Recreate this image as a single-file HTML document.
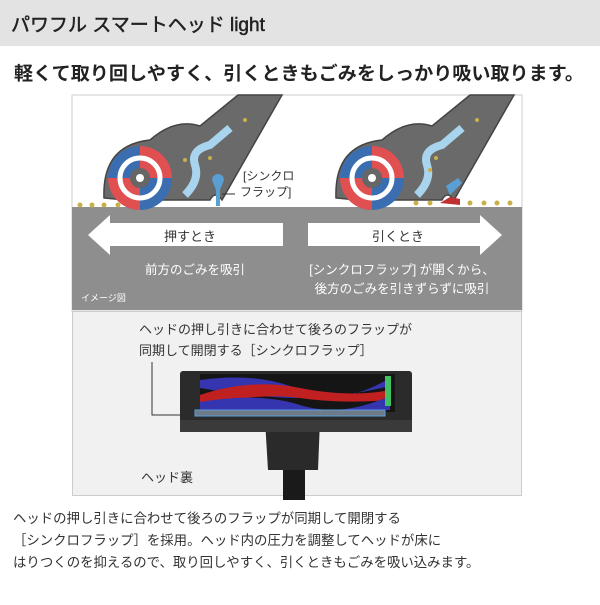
<!DOCTYPE html>
<html><head><meta charset="utf-8"><style>
body{margin:0;width:600px;height:600px;background:#fff;overflow:hidden;font-family:"Liberation Sans","Noto Sans CJK JP",sans-serif;}
svg text{font-family:"Liberation Sans","Noto Sans CJK JP",sans-serif;}
</style></head><body>
<svg width="600" height="600" viewBox="0 0 600 600" xmlns="http://www.w3.org/2000/svg">
<rect x="0" y="0" width="600" height="46" fill="#e3e3e3"/>
<text x="11" y="31" font-size="19" fill="#222" stroke="#222" stroke-width="0.5">パワフル スマートヘッド light</text>
<text x="14" y="80" font-size="18.5" fill="#222" font-weight="bold" textLength="570" lengthAdjust="spacingAndGlyphs">軽くて取り回しやすく、引くときもごみをしっかり吸い取ります。</text>

<!-- diagram -->
<rect x="72" y="95" width="450" height="216" fill="#fff" stroke="#ccc"/>
<rect x="72" y="207" width="450" height="103" fill="#8e8e8e"/>
<g id="h1">
 <path d="M104 198 Q102 145 150 140 Q175 118 200 126 L238 95 L282 95 L222 200 Q215 190 210 200 L125 200 Z" fill="#6a6a6a" stroke="#444" stroke-width="1.5"/>
 <circle cx="140" cy="178" r="32" fill="#3a6eb0"/>
 <path d="M140 178 L140 146 A32 32 0 0 1 172 178 Z" fill="#e05050"/>
 <path d="M140 178 L140 210 A32 32 0 0 1 108 178 Z" fill="#e05050"/>
 <circle cx="140" cy="178" r="20" fill="none" stroke="#fff" stroke-width="5"/>
 <circle cx="140" cy="178" r="10" fill="#666"/>
 <circle cx="140" cy="178" r="4" fill="#fff"/>
 <path d="M185 195 Q200 180 195 165 Q190 150 210 145 L230 128" fill="none" stroke="#a8d4ee" stroke-width="8"/>
</g>
<path d="M212 180 a6 6 0 1 1 12 0 l-4 10 l0 16 l-4 0 l0 -16 z" fill="#5a9fd4"/>
<line x1="222" y1="194" x2="235" y2="194" stroke="#333"/>
<text x="243" y="180" font-size="12" fill="#333">[シンクロ</text>
<text x="240" y="196" font-size="12" fill="#333">フラップ]</text>
<g transform="translate(232,0)">
 <path d="M104 198 Q102 145 150 140 Q175 118 200 126 L238 95 L282 95 L222 200 Q215 190 210 200 L125 200 Z" fill="#6a6a6a" stroke="#444" stroke-width="1.5"/>
 <circle cx="140" cy="178" r="32" fill="#3a6eb0"/>
 <path d="M140 178 L140 146 A32 32 0 0 1 172 178 Z" fill="#e05050"/>
 <path d="M140 178 L140 210 A32 32 0 0 1 108 178 Z" fill="#e05050"/>
 <circle cx="140" cy="178" r="20" fill="none" stroke="#fff" stroke-width="5"/>
 <circle cx="140" cy="178" r="10" fill="#666"/>
 <circle cx="140" cy="178" r="4" fill="#fff"/>
 <path d="M185 195 Q200 180 195 165 Q190 150 210 145 L230 128" fill="none" stroke="#a8d4ee" stroke-width="8"/>
</g>
<path d="M446 186 l12 -8 l4 5 l-12 12 z" fill="#5a9fd4"/>
<path d="M440 203 l10 -6 l10 2 l0 6 z" fill="#c03030"/>
<g fill="#c8b048">
<circle cx="80" cy="205" r="2.5"/><circle cx="92" cy="205" r="2.5"/><circle cx="104" cy="205" r="2.5"/><circle cx="118" cy="205" r="2.5"/>
<circle cx="416" cy="203" r="2.5"/><circle cx="430" cy="203" r="2.5"/><circle cx="470" cy="203" r="2.5"/><circle cx="484" cy="203" r="2.5"/><circle cx="497" cy="203" r="2.5"/><circle cx="510" cy="203" r="2.5"/>
<circle cx="245" cy="120" r="2"/><circle cx="210" cy="158" r="2"/><circle cx="185" cy="160" r="2"/><circle cx="477" cy="120" r="2"/><circle cx="436" cy="158" r="2"/><circle cx="430" cy="170" r="2"/>
</g>
<polygon points="88,235 110,215 110,223 283,223 283,246 110,246 110,255" fill="#fff"/>
<polygon points="502,235 480,215 480,223 308,223 308,246 480,246 480,255" fill="#fff"/>
<text x="190" y="241" font-size="13" fill="#333" text-anchor="middle">押すとき</text>
<text x="398" y="241" font-size="13" fill="#333" text-anchor="middle">引くとき</text>
<text x="195" y="274" font-size="12.5" fill="#fff" text-anchor="middle">前方のごみを吸引</text>
<text x="402" y="274" font-size="12.5" fill="#fff" text-anchor="middle">[シンクロフラップ] が開くから、</text>
<text x="402" y="293" font-size="12.5" fill="#fff" text-anchor="middle">後方のごみを引きずらずに吸引</text>
<text x="81" y="301" font-size="9" fill="#fff">イメージ図</text>

<!-- photo panel -->
<rect x="72.5" y="311.5" width="449" height="184" fill="#f1f1f1" stroke="#ccc"/>
<text x="139" y="334" font-size="13" fill="#333">ヘッドの押し引きに合わせて後ろのフラップが</text>
<text x="139" y="355" font-size="13" fill="#333">同期して開閉する［シンクロフラップ］</text>
<polyline points="152,362 152,415 195,415" fill="none" stroke="#333" stroke-width="1"/>
<rect x="283" y="425" width="22" height="75" fill="#1a1a1a"/>
<path d="M265 420 L320 420 L318 470 L268 470 Z" fill="#2a2a2a"/>
<rect x="180" y="371" width="232" height="58" rx="3" fill="#2b2b2b"/>
<rect x="200" y="374" width="195" height="38" fill="#151515"/>
<path d="M200 380 Q260 372 300 390 T390 378 L390 386 Q340 398 300 398 T200 388 Z" fill="#3535b0"/>
<path d="M200 395 Q250 378 300 388 T390 390 L390 400 Q340 404 300 398 T200 406 Z" fill="#c02020"/>
<path d="M200 402 Q260 392 300 405 T390 396 L390 410 L200 410 Z" fill="#3535b0"/>
<rect x="385" y="376" width="6" height="30" fill="#40c060"/>
<rect x="195" y="410" width="190" height="6" fill="#6d7a88" stroke="#5aa0d8"/>
<rect x="180" y="420" width="232" height="12" fill="#3a3a3a"/>
<text x="141" y="482" font-size="13" fill="#333">ヘッド裏</text>

<text x="13" y="523" font-size="13.4" fill="#333">ヘッドの押し引きに合わせて後ろのフラップが同期して開閉する</text>
<text x="13" y="545" font-size="13.4" fill="#333">［シンクロフラップ］を採用。ヘッド内の圧力を調整してヘッドが床に</text>
<text x="13" y="567" font-size="13.4" fill="#333">はりつくのを抑えるので、取り回しやすく、引くときもごみを吸い込みます。</text>
</svg>
</body></html>
